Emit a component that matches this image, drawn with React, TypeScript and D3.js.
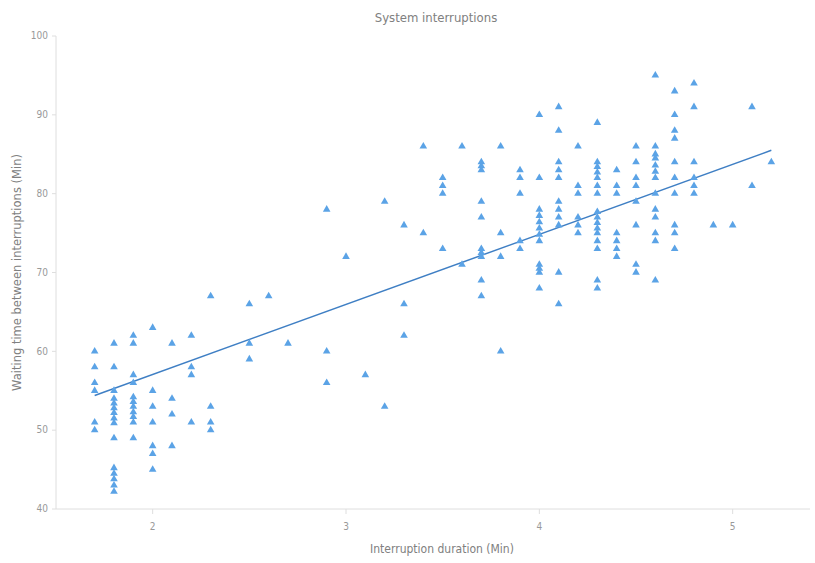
import React from "react";
import * as d3 from "d3";

// interruption duration columns (Min) and the waiting times read at each
const durations = [
  1.7, 1.8, 1.9, 2.0, 2.1, 2.2, 2.3, 2.5, 2.6, 2.7, 2.9, 3.0, 3.1, 3.2, 3.3,
  3.4, 3.5, 3.6, 3.7, 3.8, 3.9, 4.0, 4.1, 4.2, 4.3, 4.4, 4.5, 4.6, 4.7, 4.8,
  4.9, 5.0, 5.1, 5.2,
];

const waits: number[][] = [
  [60, 58, 56, 55, 51, 50],
  [61, 58, 55, 54, 53.4, 52.8, 52.2, 51.5, 50.9, 49, 45.2, 44.5, 43.8, 43, 42.2],
  [62, 61, 57, 56, 54.2, 53.6, 53, 52.3, 51.7, 51, 49],
  [63, 55, 53, 51, 48, 47, 45],
  [61, 54, 52, 48],
  [62, 58, 57, 51],
  [67, 53, 51, 50],
  [66, 61, 59],
  [67],
  [61],
  [78, 60, 56],
  [72],
  [57],
  [79, 53],
  [76, 66, 62],
  [86, 75],
  [82, 81, 80, 73],
  [86, 71],
  [84, 83.5, 83, 79, 77, 73, 72.5, 72, 69, 67],
  [86, 75, 72, 60],
  [83, 82, 80, 74, 73],
  [90, 82, 78, 77.2, 76.4, 75.6, 74.8, 74, 71, 70.5, 70, 68],
  [91, 88, 84, 83, 82, 79, 78, 77, 76, 70, 66],
  [86, 81, 80, 77, 76, 75],
  [89, 84, 83.4, 82.7, 82, 81, 80, 77.7, 77, 76.3, 75.6, 75, 74, 73, 69, 68],
  [83, 81, 80, 75, 74, 73, 72],
  [86, 84, 82, 81, 79, 76, 71, 70],
  [95, 86, 85, 84.5, 83.6, 82.8, 82, 80, 78, 77, 75, 74, 69],
  [93, 90, 88, 87, 84, 82, 80, 76, 75, 73],
  [94, 91, 84, 82, 81, 80],
  [76],
  [76],
  [91, 81],
  [84],
];

// fitted trend line ends
const trendX = [1.7, 5.2];
const trendY = [54.4, 85.5];

const xTicks = [2, 3, 4, 5];
const yTicks = [40, 50, 60, 70, 80, 90, 100];

const width = 815;
const height = 563;
const margin = { top: 36, right: 5, bottom: 54, left: 56 };

export default function App() {
  const x = d3
    .scaleLinear()
    .domain([1.5, 5.4])
    .range([margin.left, width - margin.right]);
  const y = d3
    .scaleLinear()
    .domain([40, 100])
    .range([height - margin.bottom, margin.top]);

  const points = durations.flatMap((d, i) => waits[i].map((w) => ({ d, w })));
  const tri = d3.symbol(d3.symbolTriangle, 25)() as string;

  const line = d3
    .line<number>()
    .x((d) => x(d))
    .y((_, i) => y(trendY[i]));

  const axisColor = "#dedede";
  const textColor = "#999";
  const condensed = "'DejaVu Sans Condensed', 'DejaVu Sans', sans-serif";

  return (
    <div style={{ position: "absolute", left: 0, top: 0 }}>
      <svg width={width} height={height} style={{ display: "block", background: "#fff" }}>
        <text
          x={436}
          y={22}
          textAnchor="middle"
          fontFamily={condensed}
          fontSize={13}
          fill="#808080"
        >
          System interruptions
        </text>

        {/* y axis */}
        <line x1={margin.left} x2={margin.left} y1={y(100)} y2={y(40)} stroke={axisColor} />
        {yTicks.map((t) => (
          <g key={t} transform={`translate(0,${y(t)})`}>
            <line x1={margin.left - 4} x2={margin.left} stroke={axisColor} />
            <text
              x={margin.left - 8}
              dy="0.32em"
              textAnchor="end"
              fontFamily={condensed}
              fontSize={10}
              fill={textColor}
            >
              {t}
            </text>
          </g>
        ))}
        <text
          transform={`translate(21,${(y(40) + y(100)) / 2}) rotate(-90)`}
          textAnchor="middle"
          fontFamily="'DejaVu Sans', sans-serif"
          fontSize={11.5}
          fill="#808080"
        >
          Waiting time between interruptions (Min)
        </text>

        {/* x axis */}
        <line x1={margin.left} x2={width - margin.right} y1={y(40)} y2={y(40)} stroke={axisColor} />
        {xTicks.map((t) => (
          <g key={t} transform={`translate(${x(t)},${y(40)})`}>
            <line y1={0} y2={5} stroke={axisColor} />
            <text
              y={21}
              textAnchor="middle"
              fontFamily={condensed}
              fontSize={10}
              fill={textColor}
            >
              {t}
            </text>
          </g>
        ))}
        <text
          x={442}
          y={553}
          textAnchor="middle"
          fontFamily={condensed}
          fontSize={12}
          fill="#808080"
        >
          Interruption duration (Min)
        </text>

        {/* trend line */}
        <path d={line(trendX) as string} fill="none" stroke="#3f7fc4" strokeWidth={1.5} />

        {/* points */}
        {points.map((p, i) => (
          <path
            key={i}
            d={tri}
            transform={`translate(${x(p.d)},${y(p.w)})`}
            fill="#5ba3e6"
          />
        ))}
      </svg>
    </div>
  );
}
